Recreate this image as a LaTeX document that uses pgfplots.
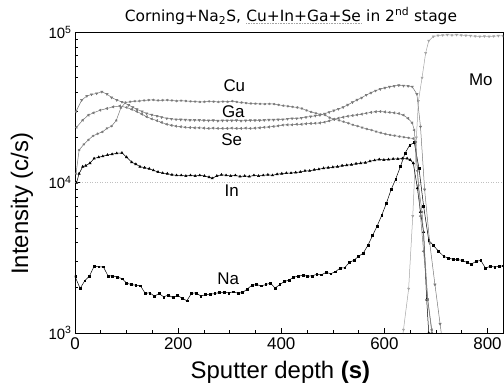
\documentclass[border=0pt]{standalone}
\usepackage{pgfplots}
\pgfplotsset{compat=1.18}
\usepackage{fontspec}
\setmainfont{Liberation Sans}
\newfontfamily\titlefont{DejaVu Sans}
\definecolor{cgray}{RGB}{120,120,120}
\definecolor{mgray}{RGB}{165,165,165}
\begin{document}
\begin{tikzpicture}
\path[use as bounding box] (-75bp,-56bp) rectangle (429bp,333bp);
\begin{axis}[
  at={(0,0)}, anchor=south west,
  scale only axis, width=428bp, height=300.5bp,
  xmin=0, xmax=830, ymin=1000, ymax=100000, ymode=log,
  xtick={0,200,400,600,800}, minor x tick num=3,
  ytick={1000,10000,100000},
  yticklabels={10\textsuperscript{3},10\textsuperscript{4},10\textsuperscript{5}},
  xtick pos=left, ytick pos=left, tick align=inside,
  major tick length=5bp, minor tick length=3bp,
  /pgf/number format/assume math mode=true,
  xticklabel style={font=\fontsize{17}{17}\selectfont, yshift=-1bp},
  yticklabel style={font=\fontsize{15}{15}\selectfont},
  axis line style={line width=0.8pt},
  tick style={line width=0.6pt, black},
  clip marker paths=true,
  xlabel={Sputter depth \textbf{(s)}},
  xlabel style={font=\fontsize{24}{24}\selectfont, at={(axis description cs:0.48,-0.13)}, anchor=center},
  ylabel={Intensity (c/s)},
  ylabel style={font=\fontsize{24}{24}\selectfont, at={(axis description cs:-0.124,0.43)}, anchor=center},
  every axis plot/.append style={line width=0.5pt},
]
\addplot[mgray!70, dotted, line width=0.6pt, forget plot] coordinates {(0,10000) (830,10000)};
% Mo
\addplot[mgray, mark=triangle*, mark size=1.2pt, mark options={rotate=180}] coordinates {
(634,900)(637,1050)(647,1970)(655,6000)(662,20000)(666,35000)(673,50000)(680,73000)(686,88000)(695,94000)(704,95500)(713,96000)(722,96500)(731,96000)(740,96500)(749,96000)(758,95500)(767,95000)(776,94500)(785,94000)(794,94500)(803,94000)(812,94500)(821,95000)(830,95000)};
% Na
\addplot[black, mark=square*, mark size=0.9pt] coordinates {
(0,2380)(10,1980)(19,2230)(28,2390)(37,2780)(46,2760)(55,2760)(64,2400)(73,2400)(82,2360)(91,2300)(100,2150)(109,2100)(118,2080)(127,2060)(136,1840)(145,1850)(154,1760)(163,1830)(172,1740)(181,1790)(190,1720)(199,1780)(208,1700)(217,1640)(226,1840)(235,1850)(244,1760)(253,1800)(262,1810)(271,1830)(280,1860)(289,1870)(298,1850)(307,1880)(316,1840)(325,1860)(334,1960)(343,2080)(352,2100)(361,2060)(370,2100)(379,2150)(388,1990)(397,2100)(406,2200)(415,2250)(424,2350)(433,2390)(442,2420)(451,2390)(460,2400)(469,2460)(478,2440)(487,2530)(496,2480)(505,2560)(514,2700)(523,2720)(532,2950)(541,3050)(550,3240)(559,3400)(568,3830)(577,4450)(586,5160)(595,6090)(604,7330)(613,9000)(622,10600)(631,12800)(640,15700)(649,17800)(658,18500)(667,12500)(676,7000)(686,4140)(695,3830)(705,3500)(715,3240)(724,3150)(733,3100)(742,3080)(751,3040)(760,2950)(769,2880)(778,3000)(787,3040)(796,2700)(805,2780)(814,2750)(823,2780)(830,2800)};
% In
\addplot[black, mark=triangle*, mark size=1.3pt] coordinates {
(3,10000)(8,11500)(15,12800)(21,13000)(29,13500)(37,14500)(46,14800)(54,15000)(63,15300)(72,15500)(81,15700)(91,15800)(100,14800)(110,13700)(118,13300)(126,12800)(135,12600)(144,12400)(152,12100)(161,11800)(170,11600)(179,11500)(188,11300)(197,11200)(206,11200)(215,11100)(224,11200)(233,11100)(242,11200)(251,11100)(260,10900)(266,10700)(275,11100)(284,11300)(293,11200)(302,11100)(311,11200)(320,11000)(329,11100)(338,11000)(347,11200)(356,11100)(365,11200)(374,11300)(383,11200)(392,11400)(401,11500)(410,11600)(419,11600)(428,11700)(437,11800)(446,12000)(455,12000)(464,12200)(473,12300)(482,12500)(491,12600)(500,12700)(509,12800)(518,13000)(527,13100)(536,13200)(545,13400)(554,13500)(563,13600)(572,13900)(581,14100)(590,14300)(599,14200)(608,14300)(617,14400)(626,14400)(635,14500)(644,14500)(650,14200)(656,13500)(664,9200)(670,6400)(676,4700)(682,1670)(686,1000)(690,800)};
% Cu
\addplot[cgray, mark=asterisk, mark size=1.3pt, mark options={line width=0.5pt}] coordinates {
(2,11500)(8,16500)(17,18000)(26,19300)(35,20500)(44,21200)(53,21800)(62,23000)(71,23800)(80,26000)(89,31500)(98,34200)(107,34600)(116,34900)(125,35000)(134,35300)(143,35500)(152,35600)(161,35300)(170,35400)(179,35500)(188,35300)(197,35000)(206,35200)(215,35000)(224,34800)(233,34700)(242,34500)(251,34600)(260,34800)(269,34700)(278,34500)(287,34700)(296,34600)(305,34900)(314,34500)(323,34200)(332,33900)(341,33700)(350,33600)(359,33500)(368,33400)(377,33500)(386,33400)(395,33000)(404,32600)(413,32300)(422,32000)(431,31700)(440,31200)(449,30300)(458,29600)(467,29000)(476,28500)(485,28200)(494,27100)(503,26500)(512,26000)(521,25500)(530,24900)(539,24300)(548,23800)(557,23300)(566,22800)(575,22400)(584,21900)(593,21500)(602,21100)(611,20800)(620,20600)(629,20300)(638,20100)(647,19900)(656,19700)(661,18700)(666,9600)(673,6400)(684,1670)(692,1000)(696,800)};
% Ga
\addplot[cgray, mark=triangle*, mark size=1.3pt, mark options={rotate=180}] coordinates {
(2,29800)(13,35500)(23,37800)(32,38700)(42,39300)(52,40300)(62,38900)(71,36900)(81,35500)(91,34500)(104,32900)(112,31800)(120,30800)(130,29800)(139,28900)(149,28300)(159,27800)(168,27300)(178,26800)(187,26600)(196,26400)(205,26300)(214,26200)(223,26100)(232,26100)(241,26100)(250,26000)(259,25900)(268,26000)(277,25800)(286,25900)(295,25900)(304,25900)(313,26000)(322,25800)(331,25900)(340,26000)(349,26000)(358,26000)(367,26100)(376,26200)(385,26200)(394,26300)(403,26400)(412,26600)(421,26800)(430,26800)(439,27000)(448,27300)(457,27600)(466,27900)(475,28200)(484,28800)(493,29500)(502,30200)(511,31000)(520,31800)(529,33000)(538,34300)(547,35600)(556,36800)(565,38400)(574,39700)(583,41000)(592,42000)(601,42800)(610,43500)(619,44000)(628,44500)(637,44200)(646,44000)(654,43600)(663,38900)(670,23600)(678,9000)(688,3960)(698,2100)(708,1150)(712,900)};
% Se
\addplot[cgray, mark=triangle*, mark size=1.3pt, mark options={rotate=90}] coordinates {
(3,23400)(15,26100)(26,28200)(36,29200)(49,30400)(62,31200)(74,32000)(87,32400)(100,31700)(110,30800)(120,29800)(130,28600)(139,27500)(149,26600)(159,25900)(168,25200)(178,24500)(187,24100)(196,23800)(205,23600)(214,23400)(223,23300)(232,23200)(241,23200)(250,23100)(259,23000)(268,23100)(277,23000)(286,23000)(295,23000)(304,23100)(313,23000)(322,23000)(331,23100)(340,23000)(349,23100)(358,23200)(367,23400)(376,23500)(385,23700)(394,23900)(403,24200)(412,24300)(421,24300)(430,24500)(439,24500)(448,24700)(457,24800)(466,24900)(475,25000)(484,25300)(493,25800)(502,26400)(511,26900)(520,27300)(529,27700)(538,28000)(547,28300)(556,28600)(565,29000)(574,29400)(583,29700)(592,29800)(601,29600)(610,29400)(619,29200)(628,28900)(637,28200)(646,26800)(654,25000)(658,22400)(664,12000)(670,6000)(676,3500)(684,1670)(692,1050)(696,850)};
\node[font=\fontsize{17}{17}\selectfont] at (axis cs:309,44500) {Cu};
\node[font=\fontsize{17}{17}\selectfont] at (axis cs:307,29700) {Ga};
\node[font=\fontsize{17}{17}\selectfont] at (axis cs:304,19300) {Se};
\node[font=\fontsize{17}{17}\selectfont] at (axis cs:304,8800) {In};
\node[font=\fontsize{17}{17}\selectfont] at (axis cs:297,2300) {Na};
\node[font=\fontsize{17}{17}\selectfont] at (axis cs:787,48600) {Mo};
\end{axis}
\node[font=\titlefont\fontsize{15.5}{15.5}\selectfont, anchor=center, inner sep=0pt] at (216bp,317bp) {Corning+Na\textsubscript{2}S, \tikz[baseline=(t.base)]{\node[inner sep=0pt](t){Cu+In+Ga+Se};\draw[mgray, densely dotted, line width=0.6pt] ([yshift=-2.5pt]t.base west) -- ([yshift=-2.5pt]t.base east);} in 2\textsuperscript{nd} stage};
\end{tikzpicture}
\end{document}
